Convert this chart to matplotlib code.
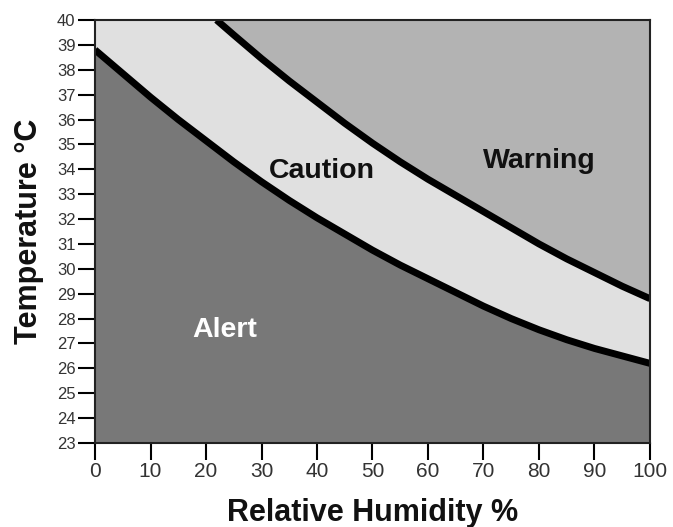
import matplotlib.pyplot as plt
import numpy as np

plt.rcParams['font.family'] = ['Liberation Sans', 'DejaVu Sans']

# Alt sinir (Alert / Caution)
humidity_low = [0, 5, 10, 15, 20, 25, 30, 35, 40, 45, 50,
                55, 60, 65, 70, 75, 80, 85, 90, 95, 100]
temp_low = [38.8, 37.85, 36.9, 36.0, 35.15, 34.3, 33.5, 32.75, 32.05, 31.4, 30.75,
            30.15, 29.6, 29.05, 28.5, 28.0, 27.55, 27.15, 26.8, 26.5, 26.2]

# Ust sinir (Caution / Warning)
humidity_high = [21.9, 25, 30, 35, 40, 45, 50, 55, 60,
                 65, 70, 75, 80, 85, 90, 95, 100]
temp_high = [40.0, 39.4, 38.45, 37.55, 36.7, 35.85, 35.05, 34.3, 33.6,
             32.95, 32.3, 31.65, 31.0, 30.4, 29.85, 29.3, 28.8]

x_ticks = [0, 10, 20, 30, 40, 50, 60, 70, 80, 90, 100]
y_ticks = list(range(23, 41))

zone_names = ['Alert', 'Caution', 'Warning']
zone_pos = [(23.3, 27.55), (40.8, 33.95), (80.0, 34.35)]
zone_text_colors = ['white', '#111111', '#111111']

c_alert = '#787878'
c_caution = '#e0e0e0'
c_warning = '#b3b3b3'

fig = plt.figure(figsize=(6.73, 5.27), dpi=100)
ax = fig.add_axes([95 / 673, 1 - 443 / 527, 555 / 673, 423 / 527])

ax.set_xlim(0, 100)
ax.set_ylim(23, 40)
ax.set_facecolor(c_caution)

ax.fill_between(humidity_low, temp_low, 23, color=c_alert, lw=0)
ax.fill_between(humidity_high, temp_high, 40, color=c_warning, lw=0)

ax.plot(humidity_low, temp_low, color='black', lw=5, solid_capstyle='butt',
        solid_joinstyle='round')
ax.plot(humidity_high, temp_high, color='black', lw=5, solid_capstyle='butt',
        solid_joinstyle='round')

for name, (hx, ty), col in zip(zone_names, zone_pos, zone_text_colors):
    ax.text(hx, ty, name, color=col, fontsize=20.5, fontweight='bold',
            ha='center', va='center')

ax.set_xticks(x_ticks)
ax.set_yticks(y_ticks)
ax.tick_params(axis='x', direction='out', length=12, width=1.5, pad=2,
               labelsize=15, labelcolor='#333333')
ax.tick_params(axis='y', direction='out', length=12, width=1.5, pad=2,
               labelsize=12, labelcolor='#333333')
for s in ax.spines.values():
    s.set_linewidth(1.5)
    s.set_color('#222222')

ax.set_xlabel('Relative Humidity %', fontsize=22, fontweight='bold',
              color='#111111', labelpad=12)
ax.set_ylabel('Temperature °C', fontsize=22, fontweight='bold',
              color='#111111', labelpad=9)

fig.savefig('out.png', dpi=100)
